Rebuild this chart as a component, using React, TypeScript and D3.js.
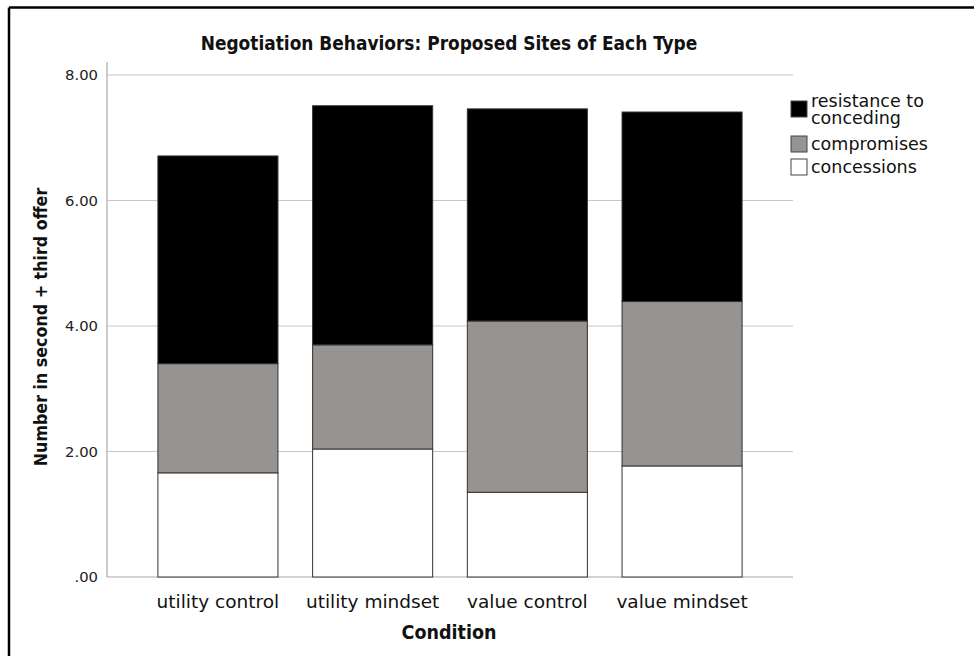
import React from "react";
import * as d3 from "d3";

const categories = ["utility control", "utility mindset", "value control", "value mindset"];
const seriesNames = ["concessions", "compromises", "resistance to conceding"];
const concessions = [1.66, 2.04, 1.35, 1.77];
const compromises = [1.74, 1.66, 2.73, 2.62];
const resistance = [3.31, 3.81, 3.38, 3.02];
const yTicks = [0, 2, 4, 6, 8];
const colors = ["#ffffff", "#979391", "#000000"];

const W = 974;
const H = 656;
const FONT_C = "'DejaVu Sans Condensed', 'DejaVu Sans', sans-serif";
const FONT = "'DejaVu Sans', sans-serif";

export default function App() {
  const x = d3
    .scaleBand<string>()
    .domain(categories)
    .range([107, 793])
    .paddingInner(0.224)
    .paddingOuter(0.329);
  const y = d3.scaleLinear().domain([0, 8]).range([577, 75]);

  const rows = categories.map((c, i) => ({
    cat: c,
    concessions: concessions[i],
    compromises: compromises[i],
    resistance: resistance[i],
  }));
  const stack = d3.stack<any>().keys(["concessions", "compromises", "resistance"]);
  const layers = stack(rows);

  const fmt = (v: number) => (v === 0 ? ".00" : d3.format(".2f")(v));

  const legend = [
    { lines: ["resistance to", "conceding"], color: colors[2], y: 101 },
    { lines: ["compromises"], color: colors[1], y: 136 },
    { lines: ["concessions"], color: colors[0], y: 159 },
  ];

  return (
    <svg width={W} height={H} style={{ position: "absolute", left: 0, top: 0, background: "#fff" }}>
      <rect x={0} y={0} width={W} height={H} fill="#fff" />
      <line x1={9} y1={7.5} x2={W} y2={7.5} stroke="#000" strokeWidth={2.5} />
      <line x1={9} y1={7.5} x2={9} y2={H} stroke="#000" strokeWidth={2.5} />
      <text x={449} y={50} textAnchor="middle" fontFamily={FONT_C} fontWeight="bold" fontSize={18.9} fill="#111">
        Negotiation Behaviors: Proposed Sites of Each Type
      </text>
      {yTicks.map((t) => (
        <g key={t}>
          {t > 0 && (
            <line x1={107} x2={793} y1={y(t)} y2={y(t)} stroke="#c8c8c8" strokeWidth={1.2} />
          )}
          <text x={98} y={y(t) + 5} textAnchor="end" fontFamily={FONT} fontSize={14.8} fill="#222">
            {fmt(t)}
          </text>
        </g>
      ))}
      <line x1={107} x2={107} y1={62} y2={577} stroke="#a8a8a8" strokeWidth={1.2} />
      <line x1={107} x2={793} y1={577} y2={577} stroke="#a8a8a8" strokeWidth={1.2} />
      {layers.map((layer, li) => (
        <g key={li}>
          {layer.map((d, i) => (
            <rect
              key={i}
              x={x(categories[i])}
              y={y(d[1])}
              width={x.bandwidth()}
              height={y(d[0]) - y(d[1])}
              fill={colors[li]}
              stroke="#333"
              strokeWidth={1}
            />
          ))}
        </g>
      ))}
      {categories.map((c) => (
        <text key={c} x={(x(c) as number) + x.bandwidth() / 2} y={608} textAnchor="middle" fontFamily={FONT} fontSize={18.5} fill="#111">
          {c}
        </text>
      ))}
      <text x={449} y={639} textAnchor="middle" fontFamily={FONT_C} fontWeight="bold" fontSize={19.5} fill="#111">
        Condition
      </text>
      <text
        transform={`translate(47,327) rotate(-90)`}
        textAnchor="middle"
        fontFamily={FONT_C}
        fontWeight="bold"
        fontSize={17.7}
        fill="#111"
      >
        Number in second + third offer
      </text>
      {legend.map((l, i) => (
        <g key={i}>
          <rect x={791} y={l.y} width={16} height={16} fill={l.color} stroke="#444" strokeWidth={1} />
          <text
            x={811}
            y={l.lines.length > 1 ? l.y + 6 : l.y + 14}
            fontFamily={FONT}
            fontSize={17.5}
            fill="#111"
          >
            {l.lines.map((s, j) => (
              <tspan key={j} x={811} dy={j === 0 ? 0 : 17}>
                {s}
              </tspan>
            ))}
          </text>
        </g>
      ))}
    </svg>
  );
}
